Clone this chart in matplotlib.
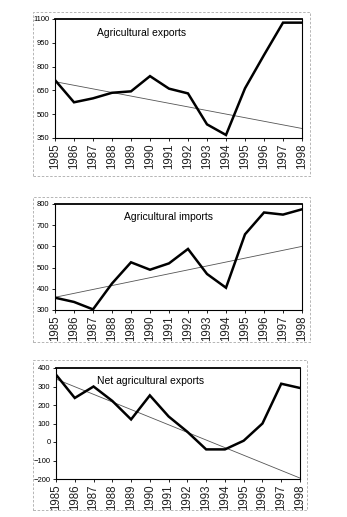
import matplotlib
matplotlib.use("Agg")
from matplotlib import pyplot as plt
from matplotlib.patches import Rectangle

plt.rcParams['font.family'] = ['Liberation Sans', 'DejaVu Sans']

years = list(range(1985, 1999))

exports = [715, 575, 600, 635, 644, 740, 661, 631, 436, 369, 663, 873, 1077, 1077]
exports_trend = [705, 410]
exports_ticks = [350, 500, 650, 800, 950, 1100]

imports = [358, 338, 303, 425, 525, 490, 520, 588, 470, 405, 657, 760, 750, 775]
imports_trend = [360, 600]
imports_ticks = [300, 400, 500, 600, 700, 800]

net = [364, 238, 300, 222, 122, 252, 138, 55, -40, -40, 7, 100, 315, 292]
net_trend = [340, -195]
net_ticks = [-200, -100, 0, 100, 200, 300, 400]

titles = ["Agricultural exports", "Agricultural imports", "Net agricultural exports"]

W, H = 347, 517
fig = plt.figure(figsize=(W / 100, H / 100), dpi=100)


def px(x0, y0, x1, y1):
    # pixel box -> figure fraction
    return [x0 / W, 1 - y1 / H, (x1 - x0) / W, (y1 - y0) / H]


panels = [
    (exports, exports_trend, exports_ticks, titles[0], (55, 19, 302, 138), (33, 12, 310, 176), 0.17),
    (imports, imports_trend, imports_ticks, titles[1], (55, 204, 302, 310), (33, 197, 310, 342), 0.28),
    (net, net_trend, net_ticks, titles[2], (56, 368, 300, 479), (33, 360, 307, 510), 0.17),
]

for vals, trend, ticks, title, box, border, tx in panels:
    # dashed frame round each chart
    bx0, by0, bx1, by1 = border
    fig.patches.append(Rectangle((bx0 / W, 1 - by1 / H), (bx1 - bx0) / W, (by1 - by0) / H,
                                 transform=fig.transFigure, fill=False, ec="#aaaaaa",
                                 lw=0.6, ls=(0, (3, 2))))
    ax = fig.add_axes(px(*box))
    ax.plot([years[0], years[-1]], trend, color="#555555", lw=0.6)
    ax.plot(years, vals, color="black", lw=1.8, solid_joinstyle="miter")
    ax.set_xlim(years[0], years[-1])
    ax.set_ylim(ticks[0], ticks[-1])
    ax.set_yticks(ticks)
    ax.set_xticks(years)
    ax.set_xticklabels([str(y) for y in years], rotation=90, fontsize=8.3, color="#222222")
    ax.tick_params(axis="y", labelsize=5.5, length=2, width=0.6, pad=2)
    ax.tick_params(axis="x", length=2, width=0.6, pad=2)
    for s in ax.spines.values():
        s.set_linewidth(0.8)
    ax.spines["top"].set_linewidth(1.3)
    ax.text(tx, 0.88, title, transform=ax.transAxes, fontsize=7.5, va="center")

fig.savefig("out.png", dpi=100)
